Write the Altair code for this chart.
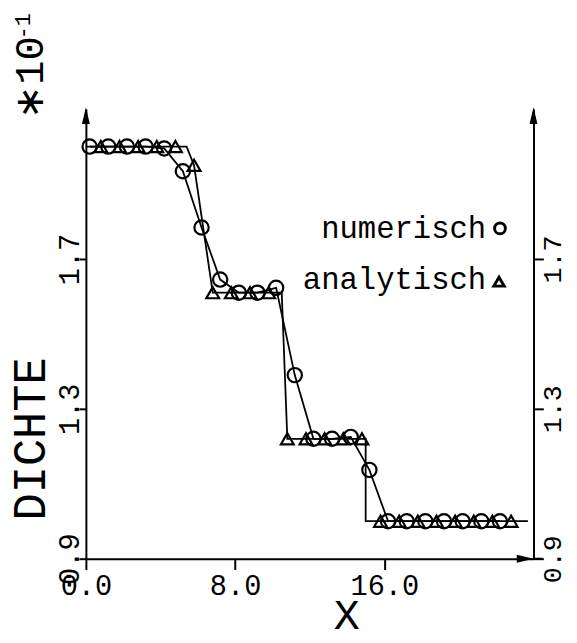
import altair as alt
import pandas as pd

# ---- data -------------------------------------------------------------------------
# numerical solution (circles)
num_x = [0.2, 1.2, 2.2, 3.2, 4.2, 5.2, 6.2, 7.2, 8.2, 9.2, 10.2, 11.2,
         12.2, 13.2, 14.2, 15.2, 16.2, 17.2, 18.2, 19.2, 20.2, 21.2, 22.2]
num_y = [2.0, 2.0, 2.0, 2.0, 1.995, 1.934, 1.784, 1.645, 1.61, 1.61, 1.623, 1.39,
         1.22, 1.22, 1.225, 1.137, 1.0, 1.0, 1.0, 1.0, 1.0, 1.0, 1.0]

# analytical solution (triangles)
ana_x = [0.8, 1.8, 2.8, 3.8, 4.8, 5.8, 6.8, 7.8, 8.8, 9.8, 10.8, 11.8,
         12.8, 13.8, 14.8, 15.8, 16.8, 17.8, 18.8, 19.8, 20.8, 21.8, 22.8]
ana_y = [2.0, 2.0, 2.0, 2.0, 2.0, 1.95, 1.61, 1.61, 1.61, 1.61, 1.22, 1.22,
         1.22, 1.22, 1.22, 1.0, 1.0, 1.0, 1.0, 1.0, 1.0, 1.0, 1.0]

# analytical curve (line through the exact solution)
ana_line_x = [0.0, 5.4, 5.8, 6.8, 10.5, 10.8, 15.0, 15.0, 23.7]
ana_line_y = [2.0, 2.0, 1.95, 1.61, 1.61, 1.22, 1.22, 1.0, 1.0]

x_ticks = [0, 8, 16]
y_ticks = [0.9, 1.3, 1.7]
legend_labels = ["numerisch", "analytisch"]
x_title = "X"
y_title = "DICHTE"
exp_base = "\u221710"
exp_power = "-1"

# ---- tables ------------------------------------------------------------------------
num_df = pd.DataFrame({"x": num_x, "y": num_y, "i": range(len(num_x))})
ana_df = pd.DataFrame({"x": ana_x, "y": ana_y})
ana_line_df = pd.DataFrame({"x": ana_line_x, "y": ana_line_y, "i": range(len(ana_line_x))})
one = alt.Data(values=[{}])

FONT = "Liberation Mono"
W, H = 454, 456

xs = alt.Scale(domain=[0, 24], nice=False, zero=False)
ys = alt.Scale(domain=[0.9, 2.1], nice=False, zero=False)

x_axis = alt.Axis(values=x_ticks, format=".1f", grid=False, tickSize=11, tickWidth=2,
                  tickColor="black", domainColor="black", domainWidth=2,
                  labelFont=FONT, labelFontSize=29, labelColor="black", labelPadding=2,
                  labelFlush=False, labelOverlap=False,
                  title=x_title, titleFont=FONT, titleFontSize=44, titleFontWeight="normal",
                  titleColor="black", titleX=264, titleY=71, titleAlign="center",
                  titleBaseline="alphabetic")

y_left = alt.Axis(orient="left", values=y_ticks, format=".1f", grid=False,
                  tickSize=7, tickWidth=2, tickColor="black", domainColor="black",
                  domainWidth=2, labelFont=FONT, labelFontSize=29, labelColor="black",
                  labelPadding=0, labelAngle=270, labelAlign="center",
                  labelBaseline="alphabetic", labelFlush=False, labelOverlap=False,
                  title=y_title, titleFont=FONT, titleFontSize=46,
                  titleFontWeight="normal", titleColor="black", titleAngle=270,
                  titleX=-42, titleY=334, titleAlign="center", titleBaseline="alphabetic")

y_right = alt.Axis(orient="right", values=y_ticks, format=".1f", grid=False,
                   tickSize=10, tickWidth=2, tickColor="black", domainColor="black",
                   domainWidth=2, labelFont=FONT, labelFontSize=27, labelColor="black",
                   labelPadding=-4, labelAngle=270, labelAlign="center",
                   labelBaseline="top", labelFlush=False, labelOverlap=False, title=None)


def X():
    return alt.X("x:Q", scale=xs, axis=x_axis)


num_line = alt.Chart(num_df).mark_line(color="black", strokeWidth=1.8).encode(
    x=X(), y=alt.Y("y:Q", scale=ys, axis=y_left), order="i:O")

num_pts = alt.Chart(num_df).mark_point(shape="circle", size=210, filled=False,
                                       color="black", strokeWidth=2.2, opacity=1).encode(
    x=X(), y=alt.Y("y:Q", scale=ys, axis=y_right))

ana_line = alt.Chart(ana_line_df).mark_line(color="black", strokeWidth=1.8).encode(
    x=X(), y=alt.Y("y:Q", scale=ys, axis=None), order="i:O")

ana_pts = alt.Chart(ana_df).mark_point(shape="triangle-up", size=170, filled=False,
                                       color="black", strokeWidth=2.2, opacity=1).encode(
    x=X(), y=alt.Y("y:Q", scale=ys, axis=None))

# axis arrows
arrow_up = "M0,-1L0.47,1L-0.47,1Z"
arrow_right = "M1,0L-1,-0.47L-1,0.47Z"
arr_kw = dict(filled=True, color="black", size=289, opacity=1, strokeWidth=0)
arrow_l = alt.Chart(one).mark_point(shape=arrow_up, **arr_kw).encode(
    x=alt.value(0), y=alt.value(6.5))
arrow_r = alt.Chart(one).mark_point(shape=arrow_up, **arr_kw).encode(
    x=alt.value(W), y=alt.value(6.5))
arrow_b = alt.Chart(one).mark_point(shape=arrow_right, **arr_kw).encode(
    x=alt.value(W - 8.5), y=alt.value(H))
x_ext = alt.Chart(one).mark_rule(color="black", strokeWidth=2).encode(
    x=alt.value(W), x2=alt.value(W + 9), y=alt.value(H))

# exponent note "*10^-1"
exp_main = alt.Chart(one).mark_text(angle=270, align="center", baseline="middle",
                                    font=FONT, fontSize=41, color="black").encode(
    x=alt.value(-56), y=alt.value(-32), text=alt.value(exp_base))
exp_sup = alt.Chart(one).mark_text(angle=270, align="center", baseline="middle",
                                   font=FONT, fontSize=22, color="black").encode(
    x=alt.value(-64), y=alt.value(-84), text=alt.value(exp_power))

# legend
leg_txt_kw = dict(align="right", baseline="alphabetic", font=FONT, fontSize=31, color="black")
leg1 = alt.Chart(one).mark_text(**leg_txt_kw).encode(
    x=alt.value(406), y=alt.value(131), text=alt.value(legend_labels[0]))
leg2 = alt.Chart(one).mark_text(**leg_txt_kw).encode(
    x=alt.value(406), y=alt.value(182), text=alt.value(legend_labels[1]))
leg1_sym = alt.Chart(one).mark_point(shape="circle", size=120, filled=False, color="black",
                                     strokeWidth=3, opacity=1).encode(
    x=alt.value(420), y=alt.value(121))
leg2_sym = alt.Chart(one).mark_point(shape="triangle-up", size=110, filled=False,
                                     color="black", strokeWidth=3, opacity=1).encode(
    x=alt.value(419), y=alt.value(175))

chart = alt.layer(
    num_line, num_pts, ana_line, ana_pts,
    arrow_l, arrow_r, arrow_b, x_ext,
    exp_main, exp_sup, leg1, leg2, leg1_sym, leg2_sym,
).resolve_axis(y="independent").properties(
    width=W, height=H,
    autosize=alt.AutoSizeParams(type="none"),
    padding={"left": 79, "top": 98, "right": 36, "bottom": 84},
    background="white",
).configure_view(stroke=None)

chart.save("out.html", embed_options={"renderer": "svg", "actions": False})
